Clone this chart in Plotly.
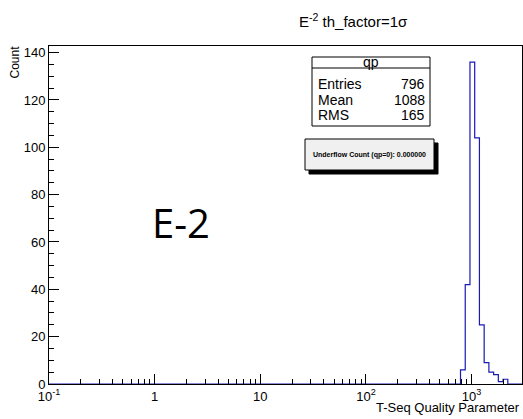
import numpy as np
import plotly.graph_objects as go

# Histogram definition: log-spaced bins of the T-Seq quality parameter
bin_low = 0.1
bin_high = 3000.0
n_bins = 100
first_filled_bin = 87
filled_counts = [6, 42, 136, 104, 25, 9, 5, 4, 1, 2]

# Stat box contents
stat_name = "qp"
stat_labels = ["Entries", "Mean", "RMS"]
stat_values = ["796", "1088", "165"]
underflow_text = "Underflow Count (qp=0): 0.000000"

title_text = "E<sup>-2</sup> th_factor=1σ"
x_title = "T-Seq Quality Parameter"
y_title = "Count"
panel_label = "E-2"

x_tick_vals = [0.1, 1, 10, 100, 1000]
x_tick_text = ["10<sup>-1</sup>", "1", "10", "10<sup>2</sup>", "10<sup>3</sup>"]
y_tick_vals = [0, 20, 40, 60, 80, 100, 120, 140]

# Build bin edges and full count array
edges = np.logspace(np.log10(bin_low), np.log10(bin_high), n_bins + 1)
counts = np.zeros(n_bins)
counts[first_filled_bin:first_filled_bin + len(filled_counts)] = filled_counts
y_step = np.append(counts, counts[-1])
y_max = 1.05 * counts.max()

W, H = 523, 419
L, R, T, B = 49, 1, 46, 35
pw, ph = W - L - R, H - T - B


def px(x):
    return (x - L) / pw


def py(y):
    return (H - B - y) / ph


FONT = "Liberation Sans, Arial, sans-serif"
LINE_BLUE = "#1a1ab4"

fig = go.Figure()
fig.add_trace(go.Scatter(
    x=edges, y=y_step, mode="lines",
    line=dict(color=LINE_BLUE, width=1.2, shape="hv"),
    hoverinfo="skip", showlegend=False,
))

minor_x = [m * 10.0 ** d for d in range(-1, 4) for m in range(2, 10) if m * 10.0 ** d < bin_high]
minor_y = [v for v in range(0, 145, 5) if v % 20]

fig.update_layout(
    width=W, height=H,
    margin=dict(l=L, r=R, t=T, b=B, pad=0),
    paper_bgcolor="white", plot_bgcolor="white",
    font=dict(family=FONT, color="black", size=13),
    showlegend=False,
    xaxis=dict(
        type="log", range=[np.log10(bin_low), np.log10(bin_high)],
        tickmode="array", tickvals=x_tick_vals, ticktext=x_tick_text,
        ticks="inside", ticklen=10, tickcolor="black", tickwidth=1,
        minor=dict(tickmode="array", tickvals=minor_x, ticks="inside",
                   ticklen=5, tickcolor="black", tickwidth=1, showgrid=False),
        showline=True, linecolor="black", linewidth=1, mirror=True,
        showgrid=False, zeroline=False,
        tickfont=dict(size=13, family=FONT),
    ),
    yaxis=dict(
        range=[0, y_max],
        tickmode="array", tickvals=y_tick_vals,
        ticks="inside", ticklen=10, tickcolor="black", tickwidth=1,
        minor=dict(tickmode="array", tickvals=minor_y, ticks="inside",
                   ticklen=5, tickcolor="black", tickwidth=1, showgrid=False),
        showline=True, linecolor="black", linewidth=1, mirror=True,
        showgrid=False, zeroline=False,
        tickfont=dict(size=13, family=FONT),
    ),
)

ann = []
# Title
ann.append(dict(x=px(353), y=py(20), xref="paper", yref="paper", text=title_text,
                showarrow=False, font=dict(size=15, family=FONT), xanchor="center", yanchor="middle"))
# Axis titles (ROOT style: placed at the axis ends)
ann.append(dict(x=px(522), y=py(407), xref="paper", yref="paper", text=x_title,
                showarrow=False, font=dict(size=13, family=FONT), xanchor="right", yanchor="middle"))
ann.append(dict(x=px(15), y=py(44), xref="paper", yref="paper", text=y_title, textangle=-90,
                showarrow=False, font=dict(size=12, family=FONT), xanchor="center", yanchor="top"))
# Big panel label
ann.append(dict(x=px(181), y=py(222), xref="paper", yref="paper", text=panel_label,
                showarrow=False, font=dict(size=40, family="Open Sans, sans-serif"),
                xanchor="center", yanchor="middle"))

shapes = []
# Stat box
sb_x0, sb_x1, sb_y0, sb_y1 = 312, 430, 57, 126
shapes.append(dict(type="rect", xref="paper", yref="paper",
                   x0=px(sb_x0), x1=px(sb_x1), y0=py(sb_y0), y1=py(sb_y1),
                   line=dict(color="black", width=1), fillcolor="white"))
shapes.append(dict(type="line", xref="paper", yref="paper",
                   x0=px(sb_x0), x1=px(sb_x1), y0=py(68), y1=py(68),
                   line=dict(color="black", width=1)))
ann.append(dict(x=px((sb_x0 + sb_x1) / 2), y=py(62), xref="paper", yref="paper", text=stat_name,
                showarrow=False, font=dict(size=14, family=FONT), xanchor="center", yanchor="middle"))
for i, (lab, val) in enumerate(zip(stat_labels, stat_values)):
    yc = 84 + i * 15.5
    ann.append(dict(x=px(sb_x0 + 4), y=py(yc), xref="paper", yref="paper", text=lab,
                    showarrow=False, font=dict(size=14, family=FONT), xanchor="left", yanchor="middle"))
    ann.append(dict(x=px(sb_x1 - 3), y=py(yc), xref="paper", yref="paper", text=val,
                    showarrow=False, font=dict(size=14, family=FONT), xanchor="right", yanchor="middle"))

# Underflow box with drop shadow
ub_x0, ub_x1, ub_y0, ub_y1 = 305, 434, 139, 170
shapes.append(dict(type="rect", xref="paper", yref="paper",
                   x0=px(ub_x0 + 4), x1=px(ub_x1 + 4), y0=py(ub_y0 + 4), y1=py(ub_y1 + 4),
                   line=dict(color="rgb(0,0,0)", width=1), fillcolor="rgb(0,0,0)", opacity=1))
shapes.append(dict(type="rect", xref="paper", yref="paper",
                   x0=px(ub_x0), x1=px(ub_x1), y0=py(ub_y0), y1=py(ub_y1),
                   line=dict(color="black", width=1), fillcolor="#f0f0f0"))
ann.append(dict(x=px((ub_x0 + ub_x1) / 2), y=py(155), xref="paper", yref="paper",
                text="<b>" + underflow_text + "</b>",
                showarrow=False, font=dict(size=7, family=FONT), xanchor="center", yanchor="middle"))

fig.update_layout(annotations=ann, shapes=shapes)
fig.write_html("out.html")
